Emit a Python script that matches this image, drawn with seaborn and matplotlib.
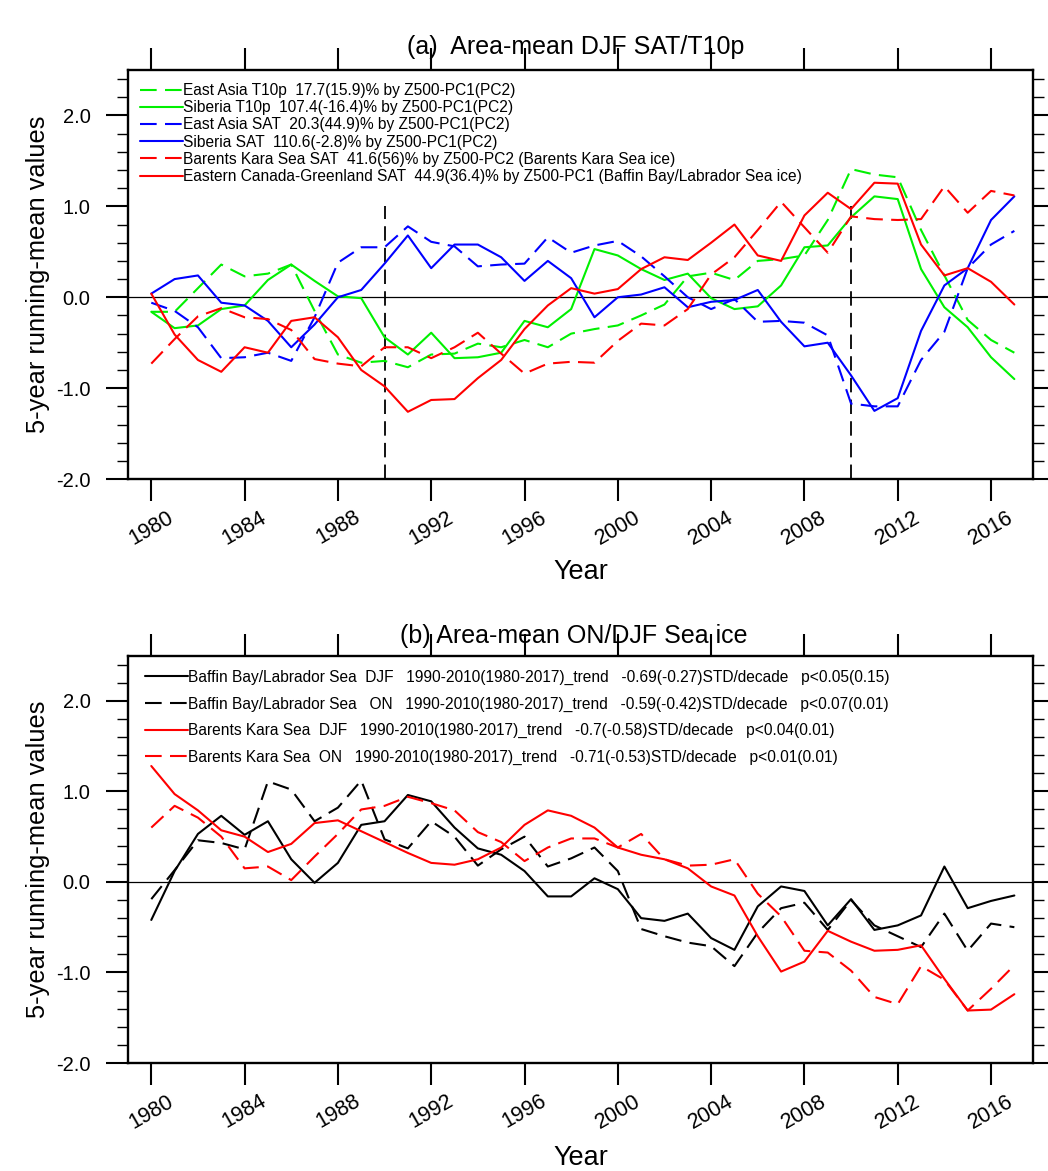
import matplotlib
matplotlib.use("Agg")
import matplotlib.pyplot as plt
from matplotlib.ticker import MultipleLocator, FormatStrFormatter
import seaborn as sns

# ---------------------------------------------------
# Data
# ---------------------------------------------------
years = list(range(1980, 2018))

# panel (a): area-mean DJF SAT / T10p, 5-year running mean
ea_t10p = [-0.16, -0.16, 0.10, 0.36, 0.23, 0.26, 0.36, -0.15, -0.63, -0.72,
           -0.70, -0.77, -0.63, -0.62, -0.51, -0.55, -0.47, -0.55, -0.40, -0.35,
           -0.31, -0.20, -0.08, 0.23, 0.27, 0.19, 0.40, 0.42, 0.46, 0.85,
           1.41, 1.35, 1.32, 0.74, 0.24, -0.25, -0.47, -0.61]
sib_t10p = [-0.16, -0.34, -0.31, -0.13, -0.09, 0.19, 0.36, 0.18, 0.01, -0.01,
            -0.44, -0.63, -0.39, -0.67, -0.66, -0.61, -0.26, -0.33, -0.13, 0.53,
            0.46, 0.31, 0.19, 0.26, -0.01, -0.13, -0.10, 0.13, 0.55, 0.57,
            0.88, 1.11, 1.08, 0.31, -0.11, -0.33, -0.66, -0.90]
ea_sat = [-0.06, -0.15, -0.33, -0.67, -0.66, -0.61, -0.70, -0.22, 0.38, 0.55,
          0.55, 0.78, 0.61, 0.56, 0.34, 0.36, 0.37, 0.66, 0.49, 0.57,
          0.62, 0.45, 0.23, 0.00, -0.13, -0.02, -0.27, -0.26, -0.28, -0.42,
          -1.17, -1.20, -1.20, -0.69, -0.38, 0.32, 0.58, 0.73]
sib_sat = [0.04, 0.20, 0.24, -0.06, -0.09, -0.26, -0.55, -0.30, 0.00, 0.08,
           0.37, 0.68, 0.32, 0.58, 0.58, 0.44, 0.18, 0.40, 0.21, -0.22,
           0.00, 0.03, 0.11, -0.11, -0.05, -0.03, 0.08, -0.27, -0.54, -0.50,
           -0.86, -1.25, -1.11, -0.37, 0.13, 0.32, 0.85, 1.11]
bks_sat = [-0.73, -0.46, -0.21, -0.12, -0.22, -0.24, -0.36, -0.68, -0.73, -0.76,
           -0.55, -0.55, -0.67, -0.55, -0.39, -0.62, -0.84, -0.73, -0.71, -0.72,
           -0.48, -0.29, -0.31, -0.13, 0.25, 0.44, 0.74, 1.05, 0.77, 0.49,
           0.89, 0.86, 0.85, 0.86, 1.22, 0.93, 1.17, 1.12]
ecg_sat = [0.04, -0.41, -0.69, -0.82, -0.55, -0.61, -0.26, -0.22, -0.44, -0.80,
           -0.98, -1.26, -1.13, -1.12, -0.89, -0.69, -0.35, -0.09, 0.10, 0.04,
           0.09, 0.31, 0.44, 0.41, 0.60, 0.80, 0.46, 0.40, 0.90, 1.15,
           0.97, 1.26, 1.25, 0.58, 0.24, 0.32, 0.17, -0.08]

labels_a = [
    "East Asia T10p  17.7(15.9)% by Z500-PC1(PC2)",
    "Siberia T10p  107.4(-16.4)% by Z500-PC1(PC2)",
    "East Asia SAT  20.3(44.9)% by Z500-PC1(PC2)",
    "Siberia SAT  110.6(-2.8)% by Z500-PC1(PC2)",
    "Barents Kara Sea SAT  41.6(56)% by Z500-PC2 (Barents Kara Sea ice)",
    "Eastern Canada-Greenland SAT  44.9(36.4)% by Z500-PC1 (Baffin Bay/Labrador Sea ice)",
]

# panel (b): area-mean ON / DJF sea ice, 5-year running mean
baffin_djf = [-0.42, 0.12, 0.53, 0.73, 0.52, 0.67, 0.25, -0.01, 0.21, 0.63,
              0.67, 0.96, 0.89, 0.60, 0.37, 0.30, 0.12, -0.16, -0.16, 0.04,
              -0.08, -0.40, -0.43, -0.35, -0.62, -0.75, -0.27, -0.05, -0.10, -0.48,
              -0.19, -0.53, -0.48, -0.37, 0.17, -0.29, -0.21, -0.15]
baffin_on = [-0.19, 0.13, 0.46, 0.43, 0.36, 1.11, 1.02, 0.67, 0.82, 1.12,
             0.47, 0.37, 0.67, 0.50, 0.18, 0.36, 0.50, 0.17, 0.26, 0.38,
             0.12, -0.52, -0.60, -0.67, -0.71, -0.93, -0.56, -0.29, -0.23, -0.53,
             -0.20, -0.48, -0.60, -0.72, -0.35, -0.76, -0.46, -0.50]
bks_djf = [1.28, 0.97, 0.79, 0.57, 0.50, 0.33, 0.42, 0.65, 0.68, 0.56,
           0.44, 0.32, 0.21, 0.19, 0.25, 0.38, 0.63, 0.79, 0.73, 0.60,
           0.38, 0.30, 0.25, 0.15, -0.05, -0.15, -0.60, -0.99, -0.88, -0.54,
           -0.66, -0.76, -0.75, -0.70, -1.07, -1.42, -1.41, -1.24]
bks_on = [0.60, 0.84, 0.71, 0.50, 0.15, 0.17, 0.02, 0.28, 0.53, 0.80,
          0.84, 0.94, 0.87, 0.79, 0.55, 0.44, 0.23, 0.38, 0.48, 0.48,
          0.38, 0.53, 0.25, 0.18, 0.19, 0.25, -0.13, -0.38, -0.76, -0.78,
          -0.98, -1.27, -1.35, -0.93, -1.08, -1.42, -1.18, -0.92]

labels_b = [
    "Baffin Bay/Labrador Sea  DJF   1990-2010(1980-2017)_trend   -0.69(-0.27)STD/decade   p<0.05(0.15)",
    "Baffin Bay/Labrador Sea   ON   1990-2010(1980-2017)_trend   -0.59(-0.42)STD/decade   p<0.07(0.01)",
    "Barents Kara Sea  DJF   1990-2010(1980-2017)_trend   -0.7(-0.58)STD/decade   p<0.04(0.01)",
    "Barents Kara Sea  ON   1990-2010(1980-2017)_trend   -0.71(-0.53)STD/decade   p<0.01(0.01)",
]

# ---------------------------------------------------
# Style
# ---------------------------------------------------
sns.set_theme(style="ticks")
plt.rcParams["font.family"] = ["Liberation Sans", "DejaVu Sans"]
plt.rcParams["axes.unicode_minus"] = False
plt.rcParams["text.color"] = "black"
plt.rcParams["axes.labelcolor"] = "black"

GREEN = "#00f000"
DASH = (0, (8, 4))

fig = plt.figure(figsize=(10.48, 11.71), dpi=100)
ax1 = fig.add_axes([0.1221, 0.5909, 0.8636, 0.3493])
ax2 = fig.add_axes([0.1221, 0.0922, 0.8636, 0.3480])


def style_axes(ax, year_y):
    ax.set_xlim(1979, 2017.8)
    ax.set_ylim(-2.0, 2.5)
    ax.set_xticks(range(1980, 2017, 4))
    ax.yaxis.set_major_locator(MultipleLocator(1.0))
    ax.yaxis.set_minor_locator(MultipleLocator(0.2))
    ax.yaxis.set_major_formatter(FormatStrFormatter("%.1f"))
    ax.tick_params(axis="both", which="major", direction="out", length=16,
                   width=1.5, labelsize=14.5, color="black", labelcolor="black")
    ax.tick_params(axis="x", top=True, labeltop=False, pad=4, labelsize=15.5)
    ax.tick_params(axis="y", right=True, labelright=False, pad=11)
    ax.tick_params(axis="y", which="minor", direction="out", length=8, width=1,
                   left=True, right=True, color="black")
    for lab in ax.get_xticklabels():
        lab.set_rotation(30)
        lab.set_ha("center")
    for sp in ax.spines.values():
        sp.set_visible(True)
        sp.set_linewidth(1.7)
        sp.set_color("black")
    ax.axhline(0, color="black", lw=0.9, zorder=1)
    ax.set_xlabel("Year", fontsize=19.5)
    ax.xaxis.label.set_va("center")
    ax.xaxis.set_label_coords(0.5, year_y)
    ax.set_ylabel("5-year running-mean values", fontsize=18.3)
    ax.yaxis.label.set_va("center")
    ax.yaxis.set_label_coords(-0.0994, 0.5)


# ---------------------------------------------------
# Panel (a)
# ---------------------------------------------------
series_a = [ea_t10p, sib_t10p, ea_sat, sib_sat, bks_sat, ecg_sat]
colors_a = [GREEN, GREEN, "blue", "blue", "red", "red"]
styles_a = [DASH, "-", DASH, "-", DASH, "-"]
for vals, c, ls, lab in zip(series_a, colors_a, styles_a, labels_a):
    sns.lineplot(x=years, y=vals, ax=ax1, color=c, linestyle=ls, linewidth=1.5,
                 label=lab, zorder=3)

ax1.vlines([1990, 2010], -2.0, 1.0, colors="black", linestyles=DASH, lw=1.3, zorder=2)
style_axes(ax1, -0.227)
ax1.legend(loc="upper left", bbox_to_anchor=(0.013, 0.968), frameon=False,
           fontsize=11.2, handlelength=2.75, handletextpad=0.0, labelspacing=0.14,
           borderpad=0, borderaxespad=0)

fig.text(576 / 1048, 1 - 47 / 1171, "(a)  Area-mean DJF SAT/T10p", ha="center",
         va="center", fontsize=18)

# ---------------------------------------------------
# Panel (b)
# ---------------------------------------------------
series_b = [baffin_djf, baffin_on, bks_djf, bks_on]
colors_b = ["black", "black", "red", "red"]
styles_b = ["-", DASH, "-", DASH]
for vals, c, ls, lab in zip(series_b, colors_b, styles_b, labels_b):
    sns.lineplot(x=years, y=vals, ax=ax2, color=c, linestyle=ls, linewidth=1.5,
                 label=lab, zorder=3)

style_axes(ax2, -0.233)
ax2.legend(loc="upper left", bbox_to_anchor=(0.019, 0.965), frameon=False,
           fontsize=11.2, handlelength=2.75, handletextpad=0.0, labelspacing=0.74,
           borderpad=0, borderaxespad=0)

fig.text(574 / 1048, 1 - 636 / 1171, "(b) Area-mean ON/DJF Sea ice", ha="center",
         va="center", fontsize=18)

fig.savefig("out.png", dpi=100)
